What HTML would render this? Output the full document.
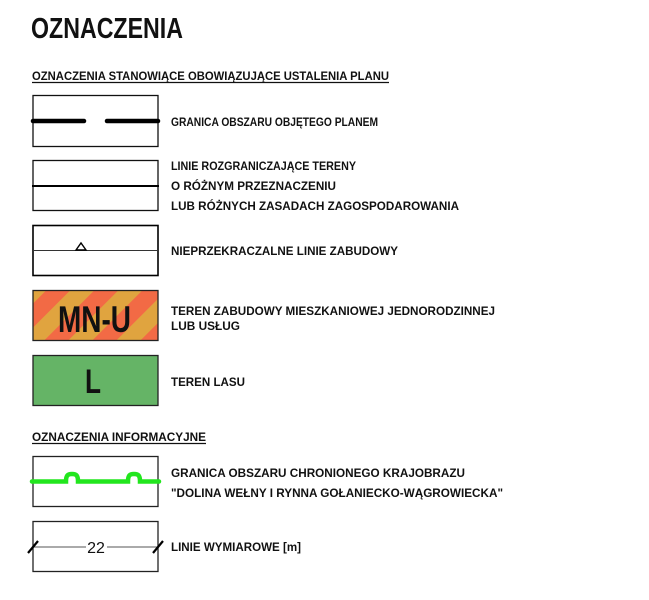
<!DOCTYPE html>
<html><head><meta charset="utf-8"><style>
html,body{margin:0;padding:0;background:#fff;}
svg{display:block;}
text{font-family:"Liberation Sans",sans-serif;font-weight:bold;fill:#111;}
</style></head><body>
<svg width="649" height="600" viewBox="0 0 649 600" xmlns="http://www.w3.org/2000/svg">
<defs>
<pattern id="st" patternUnits="userSpaceOnUse" width="34" height="34" patternTransform="rotate(45)">
<rect width="34" height="34" fill="#E0A43F"/><rect width="17" height="34" fill="#F26A45"/>
</pattern>
</defs>
<text x="31" y="38" font-size="29" textLength="152" lengthAdjust="spacingAndGlyphs">OZNACZENIA</text>
<text x="32" y="80" font-size="12" textLength="357" lengthAdjust="spacingAndGlyphs">OZNACZENIA STANOWIĄCE OBOWIĄZUJĄCE USTALENIA PLANU</text>
<line x1="32" y1="82.5" x2="389" y2="82.5" stroke="#111" stroke-width="1.3"/>

<rect x="33" y="95.5" width="125" height="51" fill="none" stroke="#111" stroke-width="1.3"/>
<line x1="33" y1="121" x2="84" y2="121" stroke="#000" stroke-width="4.5" stroke-linecap="round"/>
<line x1="107" y1="121" x2="158" y2="121" stroke="#000" stroke-width="4.5" stroke-linecap="round"/>
<text x="171" y="126" font-size="12" textLength="207" lengthAdjust="spacingAndGlyphs">GRANICA OBSZARU OBJĘTEGO PLANEM</text>

<rect x="33" y="160.5" width="125" height="50" fill="none" stroke="#111" stroke-width="1.3"/>
<line x1="32" y1="186" x2="159" y2="186" stroke="#000" stroke-width="2"/>
<text x="171" y="170" font-size="12" textLength="185" lengthAdjust="spacingAndGlyphs">LINIE ROZGRANICZAJĄCE TERENY</text>
<text x="171" y="190" font-size="12" textLength="165" lengthAdjust="spacingAndGlyphs">O RÓŻNYM PRZEZNACZENIU</text>
<text x="171" y="210" font-size="12" textLength="288" lengthAdjust="spacingAndGlyphs">LUB RÓŻNYCH ZASADACH ZAGOSPODAROWANIA</text>

<rect x="33" y="225.5" width="125" height="50" fill="none" stroke="#000" stroke-width="1.6"/>
<line x1="33" y1="250.5" x2="158" y2="250.5" stroke="#333" stroke-width="1"/>
<polygon points="76,250 81,243 86,250" fill="#fff" stroke="#000" stroke-width="1.4"/>
<text x="171" y="255" font-size="12" textLength="227" lengthAdjust="spacingAndGlyphs">NIEPRZEKRACZALNE LINIE ZABUDOWY</text>

<rect x="33" y="290.5" width="125" height="50" fill="url(#st)" stroke="#222" stroke-width="1.3"/>
<text x="58" y="332" font-size="37" textLength="73" lengthAdjust="spacingAndGlyphs">MN-U</text>
<text x="171" y="315" font-size="12" textLength="324" lengthAdjust="spacingAndGlyphs">TEREN ZABUDOWY MIESZKANIOWEJ JEDNORODZINNEJ</text>
<text x="171" y="330" font-size="12" textLength="69" lengthAdjust="spacingAndGlyphs">LUB USŁUG</text>

<rect x="33" y="355.5" width="125" height="50" fill="#65B466" stroke="#222" stroke-width="1.3"/>
<text x="85" y="393" font-size="34" textLength="16" lengthAdjust="spacingAndGlyphs">L</text>
<text x="171" y="386" font-size="12" textLength="74" lengthAdjust="spacingAndGlyphs">TEREN LASU</text>

<text x="32" y="441" font-size="12" textLength="174" lengthAdjust="spacingAndGlyphs">OZNACZENIA INFORMACYJNE</text>
<line x1="32" y1="443.5" x2="206" y2="443.5" stroke="#111" stroke-width="1.3"/>

<rect x="33" y="456.5" width="125" height="50" fill="none" stroke="#222" stroke-width="1.3"/>
<path d="M32,481.5 H66 C66,475 68,474 72,474 C76,474 78,475 78,481.5 H128 C128,475 130,474 134,474 C138,474 140,475 140,481.5 H159" fill="none" stroke="#22E61E" stroke-width="4.5" stroke-linecap="round"/>
<text x="171" y="477" font-size="12" textLength="294" lengthAdjust="spacingAndGlyphs">GRANICA OBSZARU CHRONIONEGO KRAJOBRAZU</text>
<text x="171" y="497" font-size="12" textLength="332" lengthAdjust="spacingAndGlyphs">"DOLINA WEŁNY I RYNNA GOŁANIECKO-WĄGROWIECKA"</text>

<rect x="33" y="521.5" width="125" height="50" fill="none" stroke="#222" stroke-width="1.3"/>
<line x1="33" y1="547" x2="158" y2="547" stroke="#555" stroke-width="1"/>
<rect x="86" y="540" width="21" height="14" fill="#fff"/>
<text x="96" y="553" font-size="16" style="font-weight:normal" text-anchor="middle">22</text>
<line x1="28" y1="553" x2="38" y2="541" stroke="#000" stroke-width="2.2"/>
<line x1="153" y1="553" x2="163" y2="541" stroke="#000" stroke-width="2.2"/>
<text x="171" y="551" font-size="12" textLength="130" lengthAdjust="spacingAndGlyphs">LINIE WYMIAROWE [m]</text>
</svg>
</body></html>
